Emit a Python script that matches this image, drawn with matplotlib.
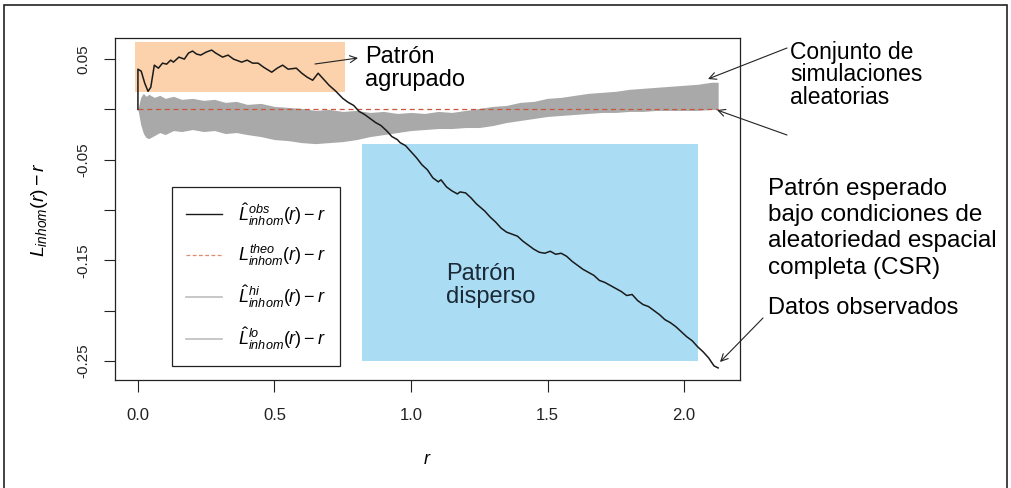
import numpy as np
import matplotlib.pyplot as plt
from matplotlib.lines import Line2D
from matplotlib.patches import Rectangle, FancyArrowPatch

plt.rcParams['font.family'] = ['Liberation Sans', 'DejaVu Sans']
plt.rcParams['mathtext.fontset'] = 'custom'
plt.rcParams['mathtext.rm'] = 'Liberation Sans'
plt.rcParams['mathtext.it'] = 'Liberation Sans:italic'

r_obs = [0.000, 0.000, 0.012, 0.025, 0.037, 0.047, 0.060, 0.075, 0.090, 0.105,
         0.120, 0.130, 0.150, 0.170, 0.185, 0.200, 0.215, 0.230, 0.250, 0.270,
         0.285, 0.310, 0.330, 0.350, 0.380, 0.400, 0.420, 0.440, 0.460, 0.490,
         0.510, 0.530, 0.550, 0.580, 0.600, 0.620, 0.640, 0.660, 0.680, 0.700,
         0.725, 0.750, 0.770, 0.790, 0.810, 0.830, 0.850, 0.870, 0.890, 0.910,
         0.930, 0.950, 0.960, 0.980, 1.000, 1.020, 1.040, 1.060, 1.080, 1.100,
         1.110, 1.130, 1.150, 1.170, 1.180, 1.200, 1.220, 1.240, 1.270, 1.290,
         1.310, 1.330, 1.350, 1.370, 1.390, 1.410, 1.430, 1.450, 1.470, 1.490,
         1.510, 1.530, 1.550, 1.570, 1.590, 1.610, 1.630, 1.650, 1.670, 1.690,
         1.710, 1.730, 1.750, 1.770, 1.790, 1.810, 1.830, 1.850, 1.870, 1.890,
         1.910, 1.930, 1.950, 1.970, 1.990, 2.010, 2.030, 2.050, 2.070, 2.090,
         2.100, 2.110, 2.125]
l_obs = [0.000, 0.040, 0.038, 0.026, 0.018, 0.022, 0.044, 0.041, 0.046, 0.045,
         0.049, 0.047, 0.052, 0.050, 0.056, 0.058, 0.055, 0.054, 0.057, 0.059,
         0.056, 0.052, 0.054, 0.050, 0.047, 0.049, 0.046, 0.046, 0.042, 0.037,
         0.041, 0.044, 0.040, 0.041, 0.036, 0.032, 0.029, 0.036, 0.030, 0.024,
         0.018, 0.011, 0.007, 0.004, -0.002, -0.005, -0.009, -0.013, -0.016, -0.021,
         -0.027, -0.030, -0.033, -0.036, -0.042, -0.048, -0.055, -0.060, -0.068, -0.072,
         -0.070, -0.077, -0.081, -0.084, -0.082, -0.083, -0.088, -0.094, -0.101, -0.107,
         -0.112, -0.118, -0.122, -0.124, -0.126, -0.131, -0.135, -0.139, -0.142, -0.143,
         -0.141, -0.144, -0.143, -0.146, -0.151, -0.155, -0.159, -0.162, -0.165, -0.170,
         -0.172, -0.175, -0.178, -0.181, -0.185, -0.184, -0.190, -0.194, -0.196, -0.200,
         -0.204, -0.209, -0.212, -0.216, -0.221, -0.226, -0.230, -0.236, -0.241, -0.247,
         -0.251, -0.255, -0.257]

# simulation envelope (hi / lo)
r_env = [0.00, 0.01, 0.02, 0.03, 0.04, 0.06, 0.08, 0.10, 0.13, 0.16,
         0.20, 0.24, 0.28, 0.32, 0.36, 0.40, 0.45, 0.50, 0.55, 0.60,
         0.65, 0.70, 0.75, 0.80, 0.85, 0.90, 0.95, 1.00, 1.05, 1.10,
         1.15, 1.20, 1.25, 1.30, 1.35, 1.40, 1.45, 1.50, 1.55, 1.60,
         1.65, 1.70, 1.75, 1.80, 1.85, 1.90, 1.95, 2.00, 2.05, 2.10, 2.125]
l_hi = [0.000, 0.012, 0.016, 0.013, 0.015, 0.012, 0.014, 0.011, 0.013, 0.010,
        0.011, 0.009, 0.010, 0.007, 0.008, 0.005, 0.006, 0.003, 0.002, 0.001,
        -0.001, 0.000, -0.002, -0.001, -0.003, -0.002, -0.004, -0.003, -0.004, -0.002,
        -0.003, -0.001, 0.001, 0.003, 0.004, 0.007, 0.008, 0.011, 0.012, 0.014,
        0.016, 0.017, 0.018, 0.020, 0.021, 0.022, 0.023, 0.024, 0.025, 0.027, 0.027]
l_lo = [0.000, -0.015, -0.024, -0.028, -0.029, -0.026, -0.023, -0.025, -0.021, -0.022,
        -0.020, -0.022, -0.021, -0.024, -0.023, -0.025, -0.027, -0.030, -0.031, -0.033,
        -0.034, -0.033, -0.032, -0.030, -0.027, -0.025, -0.023, -0.021, -0.020, -0.019,
        -0.019, -0.018, -0.018, -0.016, -0.013, -0.011, -0.009, -0.007, -0.006, -0.005,
        -0.004, -0.003, -0.003, -0.002, -0.002, -0.001, -0.001, -0.001, -0.001, 0.000, 0.000]

# shaded regions: r0, r1, y0, y1
box_agrupado = [-0.01, 0.76, 0.017, 0.067]
box_disperso = [0.82, 2.05, -0.250, -0.034]

fig = plt.figure(figsize=(10.12, 4.88), dpi=100)
ax = fig.add_axes([115 / 1012, 1 - 380 / 488, 625 / 1012, 342 / 488])

ax.add_patch(Rectangle((box_agrupado[0], box_agrupado[2]), box_agrupado[1] - box_agrupado[0],
                       box_agrupado[3] - box_agrupado[2], color='#fbd2ac', lw=0, zorder=0))
ax.add_patch(Rectangle((box_disperso[0], box_disperso[2]), box_disperso[1] - box_disperso[0],
                       box_disperso[3] - box_disperso[2], color='#aadcf4', lw=0, zorder=0))

ax.fill_between(r_env, l_lo, l_hi, color='#a9a9a9', lw=0, zorder=1)
ax.plot([0, r_env[-1]], [0, 0], ls=(0, (4, 3)), color='#c8553d', lw=0.9, zorder=2)
ax.plot(r_obs, l_obs, color='#1a1a1a', lw=1.1, zorder=3)

ax.set_xlim(-0.084, 2.205)
ax.set_ylim(-0.269, 0.071)
ax.set_xticks([0.0, 0.5, 1.0, 1.5, 2.0])
ax.set_xticklabels(['0.0', '0.5', '1.0', '1.5', '2.0'], fontsize=12)
yt = [0.05, 0.0, -0.05, -0.1, -0.15, -0.2, -0.25]
ax.set_yticks(yt)
ax.set_yticklabels(['0.05', '', '-0.05', '', '-0.15', '', '-0.25'], fontsize=11)
ax.tick_params(axis='x', length=8.5, width=0.8, pad=12, colors='#222222')
ax.tick_params(axis='y', length=8, width=0.8, pad=10, colors='#222222', labelrotation=90)
for lab in ax.get_yticklabels():
    lab.set_va('center')
for s in ax.spines.values():
    s.set_linewidth(0.9)
    s.set_color('#222222')

ax.set_xlabel(r'$r$', fontsize=13, labelpad=20)
ax.set_ylabel(r'$L_{inhom}(r)-r$', fontsize=14, labelpad=19)

handles = [Line2D([], [], color='#1a1a1a', lw=1.0),
           Line2D([], [], color='#e08a6a', lw=0.9, ls=(0, (3, 2))),
           Line2D([], [], color='#bdbdbd', lw=1.2),
           Line2D([], [], color='#bdbdbd', lw=1.2)]
labels = [r'$\hat{L}^{obs}_{inhom}(r)-r$', r'$L^{theo}_{inhom}(r)-r$',
          r'$\hat{L}^{hi}_{inhom}(r)-r$', r'$\hat{L}^{lo}_{inhom}(r)-r$']
leg = ax.legend(handles, labels, loc='lower left', bbox_to_anchor=(0.0912, 0.041),
                fontsize=13, frameon=True, fancybox=False, edgecolor='#222222',
                framealpha=1, labelspacing=0.85, handlelength=2.0, handletextpad=0.9,
                borderpad=0.75, borderaxespad=0)
leg.get_frame().set_linewidth(0.9)


def px(x, y):
    return (x / 1012, 1 - y / 488)


fig.text(*px(365, 46), 'Patrón\nagrupado', fontsize=17, va='top', ha='left', linespacing=1.05)
fig.text(*px(790, 41), 'Conjunto de\nsimulaciones\naleatorias', fontsize=16.5, va='top',
         ha='left', linespacing=0.97)
fig.text(*px(768, 178), 'Patrón esperado\nbajo condiciones de\naleatoriedad espacial\ncompleta (CSR)',
         fontsize=17.5, va='top', ha='left', linespacing=1.25)
fig.text(*px(446, 263), 'Patrón\ndisperso', fontsize=17, va='top', ha='left', linespacing=1.05,
         color='#1a2a36')
fig.text(*px(768, 308), 'Datos observados', fontsize=17, va='center', ha='left')

arrows = [((315, 64), (358, 58)), ((787, 48), (708, 79)),
          ((787, 135), (717, 110)), ((763, 318), (720, 362))]
for tail, head in arrows:
    fig.add_artist(FancyArrowPatch(
        px(*tail), px(*head), transform=fig.transFigure, arrowstyle='->,head_length=5,head_width=2.5',
        lw=0.8, color='#222222', shrinkA=0, shrinkB=0))

# outer frame of the panel
fig.add_artist(Rectangle(px(4, 540), 1003 / 1012, 535 / 488, transform=fig.transFigure,
                         fill=False, lw=1.2, edgecolor='#222222'))

fig.savefig('out.png', dpi=100)
